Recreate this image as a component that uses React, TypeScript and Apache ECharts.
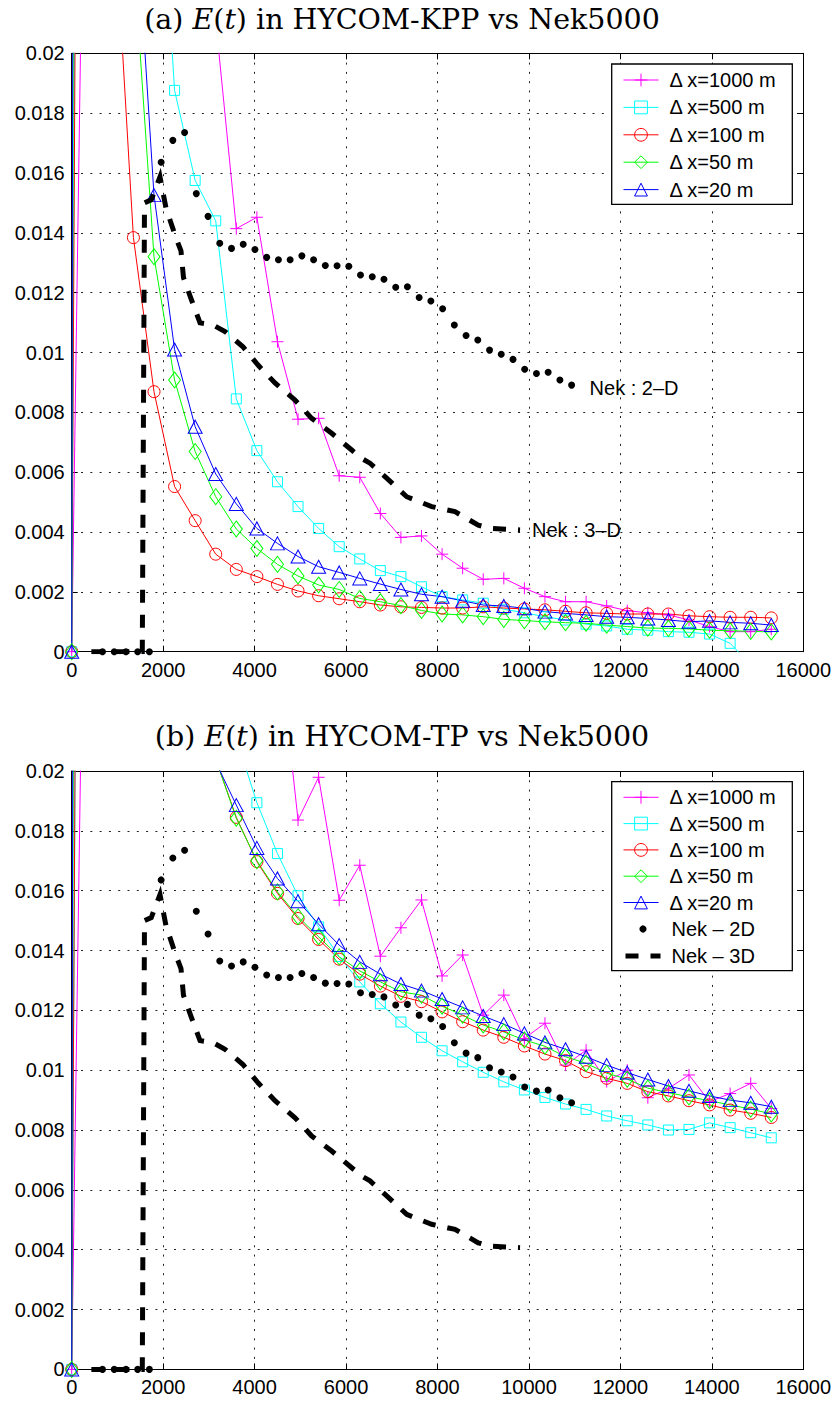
import React, { useEffect, useRef } from 'react';
import * as echarts from 'echarts';

// ---------------- data ----------------
const hycomTimes = [0, 450, 900, 1350, 1800, 2250, 2700, 3150, 3600, 4050, 4500, 4950, 5400, 5850, 6300, 6750, 7200, 7650, 8100, 8550, 9000, 9450, 9900, 10350, 10800, 11250, 11700, 12150, 12600, 13050, 13500, 13950, 14400, 14850, 15300];

const dxNames = ['Δ x=1000 m', 'Δ x=500 m', 'Δ x=100 m', 'Δ x=50 m', 'Δ x=20 m'];

// (a) HYCOM-KPP
const kppDx1000 = [0, 0.047, 0.06, 0.055, 0.045, 0.035, 0.027, 0.0211, 0.01414, 0.01452, 0.01036, 0.00777, 0.0078, 0.00588, 0.00583, 0.00462, 0.00382, 0.00387, 0.00326, 0.00279, 0.00242, 0.00245, 0.00212, 0.00184, 0.00167, 0.00167, 0.00153, 0.00137, 0.0013, 0.00123, 0.00106, 0.00084, 0.00067, 0.00067, 0.00075];
const kppDx500 = [0, 0.15, 0.1, 0.06, 0.0299, 0.01876, 0.01575, 0.0144, 0.00845, 0.00672, 0.00568, 0.00485, 0.00412, 0.00351, 0.0031, 0.00271, 0.00251, 0.00217, 0.00184, 0.00173, 0.00162, 0.00142, 0.0013, 0.00117, 0.00106, 0.00092, 0.00086, 0.00075, 0.00072, 0.00067, 0.00065, 0.00059, 0.00028, -0.00045, -0.0015];
const kppDx100 = [0, 0.125, 0.0256, 0.01384, 0.00869, 0.00552, 0.00438, 0.00326, 0.00275, 0.00251, 0.00225, 0.00203, 0.00187, 0.00177, 0.00167, 0.00156, 0.0015, 0.00148, 0.00146, 0.00146, 0.0015, 0.00146, 0.00143, 0.0014, 0.00135, 0.0013, 0.00128, 0.00126, 0.00126, 0.00126, 0.0012, 0.00117, 0.00115, 0.00115, 0.00113];
const kppDx50 = [0, 0.257, 0.05, 0.0233, 0.0132, 0.00908, 0.00669, 0.00518, 0.0041, 0.00345, 0.00292, 0.00253, 0.00223, 0.00208, 0.00178, 0.00167, 0.00154, 0.00138, 0.00126, 0.00123, 0.00117, 0.00108, 0.00104, 0.001, 0.00097, 0.00095, 0.00089, 0.00084, 0.00079, 0.00078, 0.00076, 0.00072, 0.0007, 0.00068, 0.00066];
const kppDx20 = [0, 0.41, 0.06, 0.0261, 0.01526, 0.0101, 0.00752, 0.00594, 0.00494, 0.00412, 0.00362, 0.00318, 0.00284, 0.00265, 0.00245, 0.00226, 0.00208, 0.00192, 0.00184, 0.0017, 0.00156, 0.00153, 0.00145, 0.00134, 0.00128, 0.00123, 0.00117, 0.00115, 0.00111, 0.00106, 0.001, 0.00103, 0.00098, 0.00095, 0.00089];

// (b) HYCOM-TP
const tpDx1000 = [0, 0.047, 0.06, 0.055, 0.048, 0.042, 0.037, 0.033, 0.03, 0.027, 0.0247, 0.01836, 0.01979, 0.01568, 0.01685, 0.01381, 0.01476, 0.01569, 0.01315, 0.01385, 0.01184, 0.01251, 0.01106, 0.01157, 0.01017, 0.01067, 0.00962, 0.01, 0.00908, 0.00939, 0.00984, 0.00895, 0.00922, 0.00956, 0.00872];
const tpDx500 = [0, 0.12, 0.1, 0.07, 0.05, 0.038, 0.03, 0.025, 0.0211, 0.01894, 0.01724, 0.01583, 0.01479, 0.0138, 0.01295, 0.01222, 0.01161, 0.0111, 0.01065, 0.01028, 0.00993, 0.00961, 0.00934, 0.00909, 0.00887, 0.00869, 0.00847, 0.00831, 0.00817, 0.008, 0.00802, 0.00824, 0.00808, 0.00791, 0.00774];
const tpDx100 = [0, 0.125, 0.08, 0.05, 0.036, 0.029, 0.024, 0.0204, 0.01845, 0.01697, 0.01591, 0.01507, 0.01437, 0.01371, 0.01321, 0.01281, 0.01247, 0.01229, 0.01195, 0.01162, 0.01134, 0.0111, 0.01081, 0.01054, 0.01032, 0.00995, 0.00973, 0.00956, 0.00928, 0.00914, 0.00898, 0.00884, 0.00867, 0.00856, 0.00842];
const tpDx50 = [0, 0.257, 0.09, 0.055, 0.038, 0.03, 0.024, 0.0204, 0.01842, 0.017, 0.01596, 0.01513, 0.01446, 0.01379, 0.01332, 0.01295, 0.01262, 0.01251, 0.01214, 0.01184, 0.01151, 0.01128, 0.01101, 0.0108, 0.01045, 0.01023, 0.0099, 0.0097, 0.0094, 0.00925, 0.00911, 0.00898, 0.00884, 0.0087, 0.00854];
const tpDx20 = [0, 0.41, 0.1, 0.06, 0.04, 0.03, 0.024, 0.0203, 0.01886, 0.01743, 0.01641, 0.01565, 0.01488, 0.01418, 0.01362, 0.01321, 0.01288, 0.01266, 0.01238, 0.0121, 0.01181, 0.01154, 0.01123, 0.01093, 0.0107, 0.01045, 0.01017, 0.00992, 0.00969, 0.00947, 0.00931, 0.00914, 0.009, 0.00891, 0.00878];

// Nek5000 reference
const nek2dTimes = [673, 930, 1186, 1443, 1699, 1956, 2212, 2469, 2725, 2982, 3238, 3495, 3751, 4008, 4264, 4521, 4777, 5034, 5290, 5547, 5803, 6060, 6316, 6573, 6829, 7086, 7342, 7599, 7855, 8112, 8368, 8625, 8881, 9138, 9394, 9651, 9907, 10164, 10420, 10677, 10933];
const nek2dEnergy = [0, 0, 0, 0, 0, 0.01636, 0.01709, 0.01735, 0.01531, 0.01455, 0.01365, 0.01348, 0.01362, 0.01344, 0.01318, 0.0131, 0.0131, 0.01323, 0.0131, 0.01291, 0.0129, 0.01288, 0.01259, 0.01253, 0.01245, 0.01218, 0.0122, 0.01184, 0.01172, 0.01146, 0.01092, 0.01057, 0.01042, 0.01008, 0.00994, 0.00977, 0.00944, 0.0093, 0.00934, 0.00908, 0.00891];
const nek3dTimes = [430, 1544, 1592, 1740, 1931, 2062, 2281, 2390, 2445, 2609, 2806, 3090, 3353, 3746, 4075, 4446, 4884, 5249, 5686, 6124, 6342, 6524, 6889, 7326, 7873, 8383, 8892, 9148, 9805];
const nek3dEnergy = [0, 0, 0.015, 0.0151, 0.01587, 0.01483, 0.01383, 0.0134, 0.0125, 0.0118, 0.01099, 0.01092, 0.0107, 0.01019, 0.00958, 0.00898, 0.00841, 0.0078, 0.0073, 0.00674, 0.00646, 0.0063, 0.0058, 0.00518, 0.00485, 0.00468, 0.00423, 0.00412, 0.00407];

const nekLabelsA = ['Nek : 2–D', 'Nek : 3–D'];
const nekNamesB = ['Nek – 2D', 'Nek – 3D'];

// ---------------- styles ----------------
const SANS = '"Liberation Sans", Arial, Helvetica, sans-serif';
const SERIF = '"DejaVu Serif", serif';

const dxStyles = [
  { color: '#ff00ff', symbol: 'path://M0,6L12,6M6,0L6,12', size: 12 as any },
  { color: '#00ffff', symbol: 'rect', size: 10 as any },
  { color: '#ff0000', symbol: 'circle', size: 12 as any },
  { color: '#00ff00', symbol: 'diamond', size: [12, 16] as any },
  { color: '#0000ff', symbol: 'triangle', size: [14, 13] as any },
];

const GRID_LEFT = 71.7;
const GRID_W = 731.6;
const GRID_H = 598.4;
const GRID_TOPS = [53.3, 771];

const pts = (xs: number[], ys: number[]) => xs.map((x, i) => [x, ys[i]]);

function dxSeries(k: number, values: number[], panel: number) {
  const s = dxStyles[k];
  return {
    type: 'line',
    name: dxNames[k],
    xAxisIndex: panel * 2,
    yAxisIndex: panel * 2,
    data: pts(hycomTimes, values),
    symbol: s.symbol,
    symbolSize: s.size,
    showSymbol: true,
    showAllSymbol: true,
    clip: true,
    lineStyle: { color: s.color, width: 1 },
    itemStyle: { color: 'transparent', borderColor: s.color, borderWidth: 1 },
    emphasis: { disabled: true },
    silent: true,
    z: 2,
  };
}

function nekSeries(panel: number) {
  const labelA = panel === 0;
  return [
    {
      type: 'line',
      name: labelA ? nekLabelsA[0] : nekNamesB[0],
      xAxisIndex: panel * 2,
      yAxisIndex: panel * 2,
      data: pts(nek2dTimes, nek2dEnergy),
      symbol: 'circle',
      symbolSize: 7,
      showSymbol: true,
      clip: true,
      lineStyle: { width: 0, color: '#000' },
      itemStyle: { color: '#000' },
      emphasis: { disabled: true },
      silent: true,
      z: 3,
      endLabel: labelA
        ? { show: true, formatter: nekLabelsA[0], color: '#000', fontFamily: SANS, fontSize: 20, distance: 18, offset: [0, 3] }
        : { show: false },
    },
    {
      type: 'line',
      name: labelA ? nekLabelsA[1] : nekNamesB[1],
      xAxisIndex: panel * 2,
      yAxisIndex: panel * 2,
      data: pts(nek3dTimes, nek3dEnergy),
      symbol: 'none',
      showSymbol: false,
      clip: true,
      lineStyle: { width: 5, color: '#000', type: [13, 12], cap: 'butt', join: 'miter' },
      itemStyle: { color: '#000' },
      emphasis: { disabled: true },
      silent: true,
      z: 3,
      endLabel: labelA
        ? { show: true, formatter: nekLabelsA[1], color: '#000', fontFamily: SANS, fontSize: 20, distance: 12 }
        : { show: false },
    },
  ];
}

const axisLine = { show: true, onZero: false, lineStyle: { color: '#000', width: 1 } };
const axisTick = { show: true, inside: true, length: 6, lineStyle: { color: '#000', width: 1 } };
const gridDots = { show: true, lineStyle: { color: '#222', width: 1, type: [2, 7.3] } };
const tickFont = { color: '#000', fontFamily: SANS, fontSize: 20 };

function xAxes(panel: number) {
  const base = { type: 'value', gridIndex: panel, min: 0, max: 16000, interval: 2000 };
  return [
    {
      ...base,
      position: 'bottom',
      axisLine,
      axisTick,
      axisLabel: { ...tickFont, margin: 8, formatter: (v: number) => String(Math.round(v)) },
      splitLine: gridDots,
    },
    { ...base, position: 'top', axisLine, axisTick, axisLabel: { show: false }, splitLine: { show: false } },
  ];
}

function yAxes(panel: number) {
  const base = { type: 'value', gridIndex: panel, min: 0, max: 0.02, interval: 0.002 };
  return [
    {
      ...base,
      position: 'left',
      axisLine,
      axisTick,
      axisLabel: { ...tickFont, margin: 7, formatter: (v: number) => String(parseFloat(v.toFixed(3))) },
      splitLine: gridDots,
    },
    { ...base, position: 'right', axisLine, axisTick, axisLabel: { show: false }, splitLine: { show: false } },
  ];
}

const legendText = { ...tickFont, lineHeight: 20, padding: [0, 0, 0, 6] };

function titleFor(label: string, model: string, top: number) {
  return {
    text: `(${label}) {it|E}({it|t}) in HYCOM-${model} vs Nek5000`,
    left: 402,
    top,
    padding: 0,
    textAlign: 'center',
    textStyle: {
      fontFamily: SERIF,
      fontSize: 28.5,
      fontWeight: 'normal',
      color: '#000',
      rich: { it: { fontFamily: SERIF, fontSize: 28.5, fontStyle: 'italic', color: '#000' } },
    },
  };
}

const option: any = {
  animation: false,
  backgroundColor: '#fff',
  title: [titleFor('a', 'KPP', 5), titleFor('b', 'TP', 722)],
  grid: GRID_TOPS.map((t) => ({ left: GRID_LEFT, top: t, width: GRID_W, height: GRID_H, outerBoundsMode: 'none', containLabel: false })),
  xAxis: [...xAxes(0), ...xAxes(1)],
  yAxis: [...yAxes(0), ...yAxes(1)],
  legend: [
    {
      orient: 'vertical', left: 623, top: 70, padding: 0, itemWidth: 35, itemHeight: 16, itemGap: 7.4,
      data: dxNames, selectedMode: false, textStyle: legendText,
      itemStyle: { color: 'transparent', borderWidth: 1 }, lineStyle: { width: 1 }, z: 5,
    },
    {
      orient: 'vertical', left: 623, top: 787.3, padding: 0, itemWidth: 35, itemHeight: 16, itemGap: 6.3,
      data: dxNames, selectedMode: false, textStyle: legendText,
      itemStyle: { color: 'transparent', borderWidth: 1 }, lineStyle: { width: 1 }, z: 5,
    },
    {
      orient: 'vertical', left: 623, top: 919, padding: 0, itemWidth: 35, itemHeight: 9, itemGap: 7,
      data: [
        { name: nekNamesB[0] },
        { name: nekNamesB[1], itemStyle: { opacity: 0 }, lineStyle: { width: 5 } },
      ],
      selectedMode: false, textStyle: legendText, z: 5,
    },
  ],
  graphic: [
    { type: 'rect', z: 4, shape: { x: 611.7, y: 64, width: 180.6, height: 140.3 }, style: { fill: '#fff', stroke: '#000', lineWidth: 1.3 } },
    { type: 'rect', z: 4, shape: { x: 611.7, y: 781.7, width: 180.6, height: 189 }, style: { fill: '#fff', stroke: '#000', lineWidth: 1.3 } },
  ],
  series: [
    dxSeries(0, kppDx1000, 0),
    dxSeries(1, kppDx500, 0),
    dxSeries(2, kppDx100, 0),
    dxSeries(3, kppDx50, 0),
    dxSeries(4, kppDx20, 0),
    ...nekSeries(0),
    dxSeries(0, tpDx1000, 1),
    dxSeries(1, tpDx500, 1),
    dxSeries(2, tpDx100, 1),
    dxSeries(3, tpDx50, 1),
    dxSeries(4, tpDx20, 1),
    ...nekSeries(1),
  ],
};

export default function App() {
  const ref = useRef<HTMLDivElement>(null);
  useEffect(() => {
    const chart = echarts.init(ref.current as HTMLDivElement, undefined, { renderer: 'svg' });
    chart.setOption(option);
    return () => chart.dispose();
  }, []);
  return (
    <div
      ref={ref}
      style={{ position: 'absolute', left: 0, top: 0, width: 838, height: 1403, background: '#fff' }}
    />
  );
}
